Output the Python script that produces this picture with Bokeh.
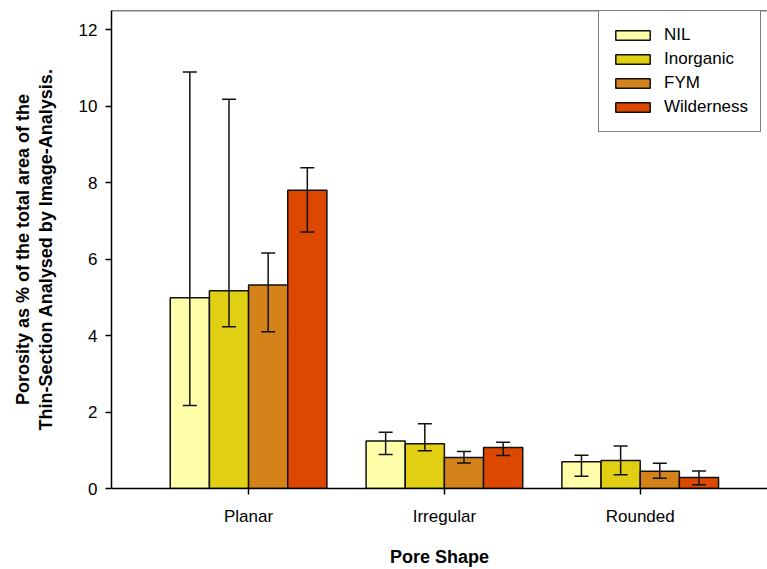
from bokeh.plotting import figure
from bokeh.models import ColumnDataSource, Whisker, TeeHead, Span, Legend, LegendItem, FixedTicker, Range1d
from bokeh.transform import dodge
from bokeh.embed import file_html
from bokeh.resources import INLINE

# Pore-shape porosity data (mean, upper and lower error limits)
shapes = ["Planar", "Irregular", "Rounded"]
treatments = ["NIL", "Inorganic", "FYM", "Wilderness"]
colors = ["#FFFFAA", "#E0CF12", "#D4821A", "#DC4800"]

nil = [4.99, 1.24, 0.70]
nil_hi = [10.89, 1.47, 0.87]
nil_lo = [2.17, 0.89, 0.32]

inorganic = [5.17, 1.17, 0.73]
inorganic_hi = [10.18, 1.69, 1.11]
inorganic_lo = [4.23, 0.99, 0.36]

fym = [5.32, 0.81, 0.45]
fym_hi = [6.16, 0.97, 0.66]
fym_lo = [4.10, 0.67, 0.27]

wilderness = [7.80, 1.07, 0.29]
wilderness_hi = [8.39, 1.21, 0.46]
wilderness_lo = [6.71, 0.86, 0.10]

means = [nil, inorganic, fym, wilderness]
highs = [nil_hi, inorganic_hi, fym_hi, wilderness_hi]
lows = [nil_lo, inorganic_lo, fym_lo, wilderness_lo]

positions = [1, 2, 3]
offsets = [-0.3, -0.1, 0.1, 0.3]
bar_width = 0.2

FONT = "Liberation Sans"

p = figure(width=767, height=569, output_backend="svg", toolbar_location=None,
           x_range=Range1d(0.30, 3.65), y_range=Range1d(0, 12.5),
           min_border_left=111, min_border_right=0, min_border_top=10, min_border_bottom=79)

p.background_fill_color = "white"
p.border_fill_color = "white"
p.outline_line_color = None
p.xgrid.visible = False
p.ygrid.visible = False

renderers = []
for name, col, m, hi, lo, off in zip(treatments, colors, means, highs, lows, offsets):
    src = ColumnDataSource(dict(x=positions, top=m, upper=hi, lower=lo))
    r = p.vbar(x=dodge("x", off), top="top", width=bar_width, source=src,
               fill_color=col, line_color="#111111", line_width=1.5)
    renderers.append((name, r))
    w = Whisker(base=dodge("x", off), upper="upper", lower="lower", source=src,
                line_color="#111111", line_width=1.5, level="overlay",
                upper_head=TeeHead(size=14, line_color="#111111", line_width=1.5),
                lower_head=TeeHead(size=14, line_color="#111111", line_width=1.5))
    p.add_layout(w)

# top frame line
p.add_layout(Span(location=12.5, dimension="width", line_color="black", line_width=1.5))

# y axis
yax = p.yaxis[0]
yax.ticker = FixedTicker(ticks=[0, 2, 4, 6, 8, 10, 12])
yax.minor_tick_line_color = None
yax.major_tick_in = 0
yax.major_tick_out = 6
yax.major_label_standoff = 8
yax.major_label_text_font = FONT
yax.major_label_text_font_size = "17px"
yax.major_label_text_color = "black"
yax.axis_line_color = "black"
yax.axis_line_width = 1.5
yax.major_tick_line_width = 1.5
yax.axis_label = "Porosity as % of the total area of the\nThin-Section Analysed by Image-Analysis."
yax.axis_label_text_font = FONT
yax.axis_label_text_font_size = "18px"
yax.axis_label_text_font_style = "bold"
yax.axis_label_text_color = "black"
yax.axis_label_text_line_height = 1.12
yax.axis_label_standoff = 20

# x axis
xax = p.xaxis[0]
xax.ticker = FixedTicker(ticks=positions)
xax.major_label_overrides = {pos: s for pos, s in zip(positions, shapes)}
xax.minor_tick_line_color = None
xax.major_tick_in = 0
xax.major_tick_out = 6
xax.major_label_standoff = 12
xax.major_label_text_font = FONT
xax.major_label_text_font_size = "17px"
xax.major_label_text_color = "black"
xax.axis_line_color = "black"
xax.axis_line_width = 1.5
xax.major_tick_line_width = 1.5
xax.axis_label = "Pore Shape"
xax.axis_label_text_font = FONT
xax.axis_label_text_font_size = "18px"
xax.axis_label_text_font_style = "bold"
xax.axis_label_text_color = "black"
xax.axis_label_standoff = 18

legend = Legend(items=[LegendItem(label=n, renderers=[r]) for n, r in renderers],
                location=(487, 356))
legend.margin = 0
legend.padding = 12
legend.spacing = 0
legend.glyph_width = 43
legend.glyph_height = 12
legend.label_height = 24
legend.label_standoff = 10
legend.label_text_font = FONT
legend.label_text_font_size = "17px"
legend.label_text_color = "black"
legend.border_line_color = "black"
legend.border_line_width = 1.5
legend.background_fill_color = "white"
legend.background_fill_alpha = 1
p.add_layout(legend)

open("out.html", "w").write(file_html(p, INLINE))
